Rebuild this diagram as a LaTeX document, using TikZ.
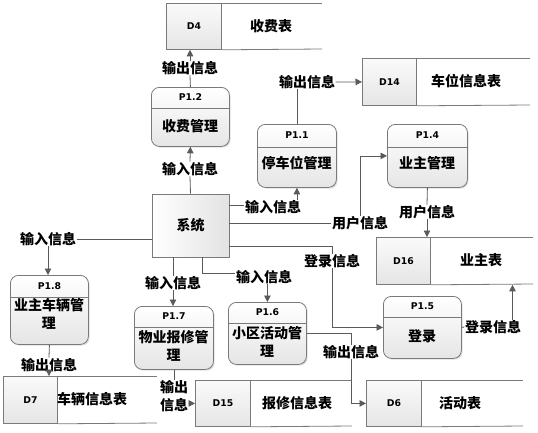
\documentclass[tikz,border=0pt]{standalone}
\usepackage{fontspec}
\newfontfamily\cjk{Noto Sans CJK SC}
\newfontfamily\hdrfont{DejaVu Sans}
\usetikzlibrary{arrows.meta,shadows,calc}
\definecolor{linec}{HTML}{5A5A5A}
\definecolor{boxc}{HTML}{7A7A7A}
\tikzset{
  lbl/.style={font=\cjk\bfseries\fontsize{14}{18}\selectfont, inner sep=0.4pt, align=center},
  bodytxt/.style={font=\cjk\bfseries\fontsize{14}{18}\selectfont, inner sep=0pt, align=center},
  hdrtxt/.style={font=\hdrfont\bfseries\fontsize{9.3}{10}\selectfont, inner sep=0pt},
  conn/.style={draw=linec, line width=0.8pt},
  arr/.style={conn, -{Triangle[width=6.5pt,length=6.5pt]}},
  procbox/.style={draw=boxc, line width=0.8pt, rounded corners=8pt, inner sep=0pt,
     top color=white, bottom color=gray!20, anchor=north west,
     drop shadow={shadow xshift=1.3pt, shadow yshift=-1.3pt, opacity=0.25}},
  cellbox/.style={draw=boxc, line width=0.8pt, inner sep=0pt, anchor=north west,
     top color=gray!4, bottom color=gray!20,
     font=\hdrfont\bfseries\fontsize{9.3}{10}\selectfont},
  storeline/.style={draw=boxc, line width=0.8pt},
  sysbox/.style={draw=boxc, line width=0.8pt, inner sep=0pt,
     left color=white, right color=gray!22,
     drop shadow={shadow xshift=1.3pt, shadow yshift=-1.3pt, opacity=0.25},
     font=\cjk\bfseries\fontsize{14}{18}\selectfont}
}
% store: name, xl, yt, w, h, xr, id, title, titlex
\newcommand{\mystore}[9]{%
  \node[cellbox, minimum width=#4pt, minimum height=#5pt] (#1) at (#2,#3) {#7};
  \draw[storeline] (#1.north east) -- (#6,#3);
  \draw[storeline] (#1.south east) -- (#6,#3+#5);
  \node[bodytxt] (#1t) at (#9,#3+#5/2) {#8};
}
% process: name, xl, yt, w, h, hdr, id, body, bodyy
\newcommand{\myproc}[9]{%
  \node[procbox, minimum width=#4pt, minimum height=#5pt] (#1) at (#2,#3) {};
  \draw[storeline] ([yshift=-#6pt]#1.north west) -- ([yshift=-#6pt]#1.north east);
  \node[hdrtxt] (#1h) at ([yshift=-#6pt/2]#1.north) {#7};
  \node[bodytxt] (#1b) at (#2+#4/2,#9) {#8};
}
\begin{document}
\begin{tikzpicture}[x=1pt,y=-1pt]
\useasboundingbox (0,0) rectangle (538,432);
\fill[white] (0,0) rectangle (538,432);

% stores
\mystore{d4}{166}{3}{55}{46}{322}{D4}{收费表}{271}
\mystore{d14}{362}{58}{54}{47}{530}{D14}{车位信息表}{466}
\mystore{d16}{376}{237}{54}{47}{533}{D16}{业主表}{481}
\mystore{d7}{3}{376}{54}{47}{157}{D7}{车辆信息表}{92}
\mystore{d15}{195}{380}{55}{46}{352}{D15}{报修信息表}{297}
\mystore{d6}{366}{380}{55}{46}{523}{D6}{活动表}{460}

% processes
\myproc{p12}{151}{87}{78}{59}{21}{P1.2}{收费管理}{126}
\myproc{p11}{257}{124}{79}{63}{23}{P1.1}{停车位管理}{163}
\myproc{p14}{387}{124}{80}{63}{23}{P1.4}{业主管理}{163}
\myproc{p18}{10}{275}{78}{69}{22}{P1.8}{业主车辆管\\理}{314}
\myproc{p17}{134}{306}{79}{63}{21}{P1.7}{物业报修管\\理}{346}
\myproc{p16}{228}{302}{78}{62}{21}{P1.6}{小区活动管\\理}{342}
\myproc{p15}{383}{296}{78}{62}{21}{P1.5}{登录}{336}

% system
\node[sysbox, minimum width=77pt, minimum height=63pt] (sys) at (190.5,225.5) {系统};
\coordinate (s4) at ([yshift=20.5pt]sys.east);
\coordinate (s7) at ([yshift=-20.5pt]sys.east);
\coordinate (s10) at ([xshift=11.5pt]sys.south);

% labels
\node[lbl] (l1) at (190,68) {输出信息};
\node[lbl] (l2) at (307,82) {输出信息};
\node[lbl] (l3) at (190,169) {输入信息};
\node[lbl] (l4) at (273,207) {输入信息};
\node[lbl] (l5) at (360,223) {用户信息};
\node[lbl] (l6) at (427,212) {用户信息};
\node[lbl] (l7) at (332,261) {登录信息};
\node[lbl] (l8) at (48,239) {输入信息};
\node[lbl] (l9) at (173,283) {输入信息};
\node[lbl] (l10) at (264,277) {输入信息};
\node[lbl] (l11) at (49,365) {输出信息};
\node[lbl] (l12) at (174,396) {输出\\信息};
\node[lbl] (l13) at (351,352) {输出信息};
\node[lbl] (l14) at (493,327) {登录信息};
\coordinate (c10) at ([yshift=4pt]l10.west);
\coordinate (c14) at ([xshift=19.5pt]l14.north);

% connectors
\draw[conn] (p12.north) -- (l1.south);
\draw[arr] (l1.north) -- (l1.north |- d4.south);

\draw[conn] (p11.north) -- (p11.north |- l2.south);
\draw[arr] (l2.east) -- (d14.west);

\draw[conn] (sys.north) -- (l3.south);
\draw[arr] (l3.north) -- (p12.south);

\draw[conn] (s4) -- (s4 -| l4.west);
\draw[arr] (p11.south |- l4.north) -- (p11.south);

\draw[conn] (sys.east |- l5.west) -- (l5.west);
\draw[arr] (l5.north) |- (p14.west);

\draw[conn] (p14.south) -- (l6.north);
\draw[arr] (l6.south) -- (l6.south |- d16.north);

\draw[conn] (s7) -| (l7.north);
\draw[arr] (l7.south) |- (p15.west);

\draw[conn] (sys.west |- l8.east) -- (l8.east);
\draw[arr] (l8.south) -- (l8.south |- p18.north);

\draw[conn] (l9.north |- sys.south) -- (l9.north);
\draw[arr] (l9.south) -- (l9.south |- p17.north);

\draw[conn] (s10) |- (c10);
\draw[arr] (p16.north |- l10.south) -- (p16.north);

\draw[conn] (p18.south) -- (l11.north);
\draw[arr] (l11.south) -- (l11.south |- d7.north);

\draw[conn] (p17.south) -- (p17.south |- l12.north);
\draw[arr] (l12.east |- d15.west) -- (d15.west);

\draw[conn] (p16.east) -| (l13.north);
\draw[arr] (l13.south) |- (d6.west);

\draw[conn] (p15.east) -- (l14.west);
\draw[arr] (c14) -- (c14 |- d16.south);
\end{tikzpicture}
\end{document}
